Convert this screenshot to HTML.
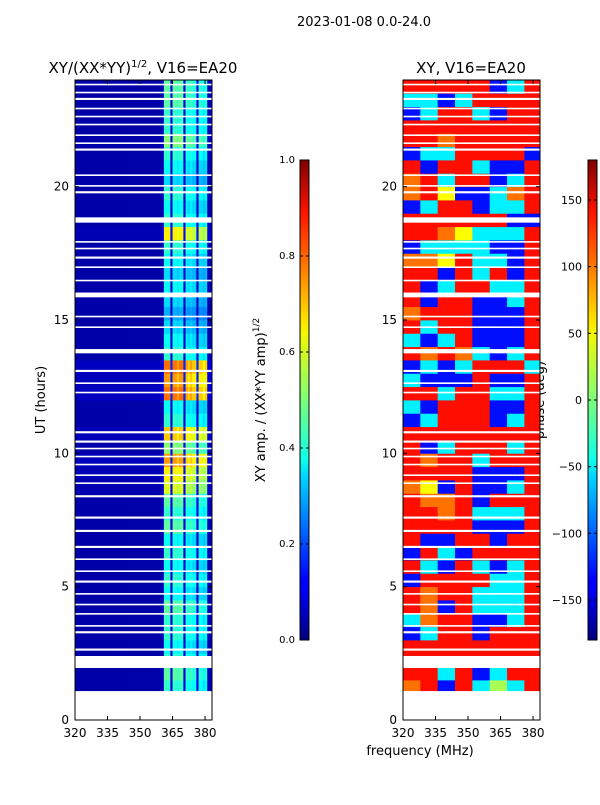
<!DOCTYPE html>
<html><head><meta charset="utf-8"><style>
body{margin:0;background:#fff;font-family:"Liberation Sans","DejaVu Sans",sans-serif}
svg text{font-family:"DejaVu Sans","Liberation Sans",sans-serif}
</style></head><body>
<svg id="fig" width="600" height="800" xmlns="http://www.w3.org/2000/svg">
<defs>
<linearGradient id="jet" x1="0" y1="1" x2="0" y2="0">
<stop offset="0" stop-color="#000080"/><stop offset="0.11" stop-color="#0000ff"/><stop offset="0.125" stop-color="#0000ff"/>
<stop offset="0.34" stop-color="#00d4ff"/><stop offset="0.375" stop-color="#0dffea"/><stop offset="0.5" stop-color="#7dff7a"/>
<stop offset="0.64" stop-color="#f4f802"/><stop offset="0.66" stop-color="#ffe600"/><stop offset="0.89" stop-color="#ff1300"/><stop offset="1" stop-color="#800000"/>
</linearGradient></defs>
<text x="364" y="26" font-size="13" text-anchor="middle">2023-01-08 0.0-24.0</text>
<text x="143" y="73" font-size="15" text-anchor="middle">XY/(XX*YY)<tspan dy="-6" font-size="10">1/2</tspan><tspan dy="6">, V16=EA20</tspan></text>
<text x="471" y="73" font-size="15" text-anchor="middle">XY, V16=EA20</text>
<text transform="translate(45,400) rotate(-90)" font-size="13" text-anchor="middle">UT (hours)</text>
<text transform="translate(265,400) rotate(-90)" font-size="13" text-anchor="middle">XY amp. / (XX*YY amp)<tspan dy="-6" font-size="9">1/2</tspan></text>
<text transform="translate(544,400) rotate(-90)" font-size="13" text-anchor="middle">phase (deg)</text>
<text x="420" y="755" font-size="13" text-anchor="middle">frequency (MHz)</text>
<g id="amp"></g>
<g id="pha"></g>
<g id="axes"></g>
<rect x="300" y="160" width="9" height="480" fill="url(#jet)" stroke="#000"/>
<rect x="588" y="160" width="9" height="480" fill="url(#jet)" stroke="#000"/>
</svg>
<script>
const gapStarts=[1.95,2.6,3.25,3.5,3.95,4.3,4.7,5.15,5.55,6.0,6.45,7.05,7.55,8.35,8.85,9.15,9.55,9.85,10.15,10.4,10.75,12.25,12.6,13.05,13.75,14.7,15.1,15.85,16.45,16.95,17.3,17.65,17.9,18.65,19.75,20.0,20.4,21.35,21.6,21.9,22.3,22.6,22.9,23.25,23.5,23.8];
const gapLens=[0.45,0.08,0.08,0.06,0.06,0.06,0.06,0.08,0.06,0.06,0.08,0.08,0.08,0.08,0.06,0.06,0.06,0.06,0.06,0.08,0.08,0.06,0.06,0.08,0.16,0.06,0.06,0.18,0.06,0.06,0.08,0.06,0.06,0.2,0.08,0.06,0.06,0.08,0.06,0.06,0.06,0.06,0.06,0.08,0.06,0.06];
const ampProfile=[0.07,0.07,0.07,0.07,0.07,0.07,0.07,0.07,0.07,0.07,0.07,0.07,0.07,0.07,0.07,0.07,0.07,0.07,0.07,0.07,0.07,0.07,0.07,0.07,0.07,0.07,0.07,0.07,0.07,0.07,0.07,0.07,0.07,0.07,0.07,0.07,0.07,0.07,0.07,0.07,0.12,0.85,0.85,0.85,0.18,0.85,0.85,0.8,0.85,0.85,0.18,0.8,0.75,0.8,0.75,0.75,0.18,0.75,0.75,0.7,0.75,0.12,0.12,0.12];
const rowGain=[0.5,0.55,0.5,0.45,0.5,0.5,0.55,0.45,0.5,0.45,0.5,0.45,0.55,0.5,0.55,0.7,0.75,0.85,0.6,0.8,0.5,0.45,0.9,0.85,0.9,0.5,0.45,0.4,0.35,0.4,0.45,0.4,0.45,0.5,0.75,0.5,0.45,0.5,0.4,0.45,0.5,0.6,0.5,0.5,0.55,0.55];
const R=130,O=95,Y=45,G=15,C=-50,B=-130;
const phaseRows=[
[O,R,B,R,C,G,C,R],[R,R,C,R,B,C,R,R],[R,R,R,R,R,R,R,R],[R,R,R,R,R,R,R,R],[B,C,R,R,B,R,R,R],[C,O,R,R,B,B,C,R],
[R,O,B,R,C,C,C,R],[R,O,R,R,C,C,C,R],[B,R,R,R,R,C,C,R],[R,C,B,R,C,B,C,R],[B,R,C,B,R,R,R,R],[R,B,B,R,R,B,R,R],
[R,R,R,R,B,B,B,R],[R,R,O,R,C,C,C,R],[R,O,O,R,B,R,R,R],[O,Y,B,R,B,B,C,R],[R,R,R,R,B,B,B,R],[R,O,R,R,C,R,R,R],
[R,B,C,R,R,R,C,R],[R,R,R,R,R,R,R,R],[B,C,R,R,R,B,C,R],[C,B,R,R,R,B,B,R],
[R,R,C,R,R,C,C,R],[C,B,B,B,R,B,B,R],[B,C,B,C,R,R,R,C],[R,O,R,O,C,B,C,R],[C,B,C,R,B,B,B,R],[R,C,R,R,B,B,B,R],
[O,R,R,R,B,B,B,R],[R,B,R,R,B,B,C,R],[R,B,C,R,R,C,C,R],[R,R,B,R,C,R,B,R],[O,O,Y,R,C,C,B,R],[B,C,C,C,C,B,B,R],
[R,R,O,Y,C,C,C,R],[R,R,R,R,R,R,B,B],[B,C,R,R,B,C,C,R],[O,R,Y,B,B,C,O,R],[O,R,C,R,R,B,C,R],[R,B,R,R,C,B,B,R],
[B,C,C,R,R,R,R,B],[R,R,O,R,R,R,R,R],[R,R,R,R,R,R,R,R],[B,C,R,R,C,B,R,R],[C,C,B,C,R,R,R,R],[R,R,R,R,R,B,C,R]];
const ampTicks=[0,0.2,0.4,0.6,0.8,1.0];
const phaseTicks=[-150,-100,-50,0,50,100,150];
const hourTicks=[0,5,10,15,20];
const freqTicks=[320,335,350,365,380];

const NS="http://www.w3.org/2000/svg";
const fig=document.getElementById('fig');
const T=80,Bt=720;
function yH(h){return Bt-(h/24)*(Bt-T);}
function xF(f,x0){return x0+(f-320)*(137/63.2);}
function jet(v){v=Math.max(0,Math.min(1,v));
 const c=t=>Math.round(255*Math.max(0,Math.min(1,t)));
 return `rgb(${c(1.5-Math.abs(4*v-3))},${c(1.5-Math.abs(4*v-2))},${c(1.5-Math.abs(4*v-1))})`;}
function el(tag,attrs,parent){const e=document.createElementNS(NS,tag);for(const k in attrs)e.setAttribute(k,attrs[k]);parent.appendChild(e);return e;}
const amp=document.getElementById('amp'),pha=document.getElementById('pha');
rowGain.forEach((g,i)=>{
 const h0=Math.max(1.1,1+i*0.5),h1=1.5+i*0.5;
 ampProfile.forEach((p,j)=>{
  const x0=xF(320+j,75),x1=xF(321+j,75);
  const r=el('rect',{x:x0,y:yH(h1),width:Math.min(x1,212)-x0+0.4,height:yH(h0)-yH(h1)+0.4,fill:jet(Math.max(p*g,0.04))},amp);
  
  
 });
});
phaseRows.forEach((row,i)=>{
 const h0=Math.max(1.1,1+i*0.5),h1=1.5+i*0.5;
 row.forEach((v,j)=>{
  const f0=320+j*8,f1=f0+8;
  const x0=xF(f0,403),x1=Math.min(xF(f1,403),540);
  const r=el('rect',{x:x0,y:yH(h1),width:x1-x0+0.4,height:yH(h0)-yH(h1)+0.4,fill:jet((v+180)/360)},pha);
  
  
 });
});
gapStarts.forEach((g,i)=>{
 [75,403].forEach(x=>{
  const r=el('rect',{x:x,y:yH(g+gapLens[i]),width:137,height:yH(g)-yH(g+gapLens[i]),fill:'#fff'},fig);
  
  
 });
});
const axes=document.getElementById('axes');
fig.appendChild(axes);
[75,403].forEach((x0,k)=>{
 const f=el('rect',{x:x0,y:T,width:137,height:Bt-T,fill:'none',stroke:'#000','stroke-width':1},axes);
 
 
 hourTicks.forEach(h=>{
  const y=yH(h);
  el('line',{x1:x0,x2:x0+4,y1:y,y2:y,stroke:'#000'},axes);
  el('line',{x1:x0+137,x2:x0+133,y1:y,y2:y,stroke:'#000'},axes);
  const t=el('text',{x:x0-6,y:y+4,'font-size':12,'text-anchor':'end'},axes);
  t.textContent=h;
  
  
 });
 freqTicks.forEach(fq=>{
  const x=xF(fq,x0);
  el('line',{x1:x,x2:x,y1:Bt,y2:Bt-4,stroke:'#000'},axes);
  el('line',{x1:x,x2:x,y1:T,y2:T+4,stroke:'#000'},axes);
  const t=el('text',{x:x,y:Bt+17,'font-size':12,'text-anchor':'middle'},axes);
  t.textContent=fq;
  
  
 });
});
ampTicks.forEach(v=>{
 const y=640-v*480;
 el('line',{x1:300,x2:303,y1:y,y2:y,stroke:'#000'},fig);
 el('line',{x1:309,x2:306,y1:y,y2:y,stroke:'#000'},fig);
 const t=el('text',{x:295,y:y+3,'font-size':10,'text-anchor':'end'},fig);
 t.textContent=v.toFixed(1);
 
 
});
phaseTicks.forEach(v=>{
 const y=400-v*480/360;
 el('line',{x1:588,x2:591,y1:y,y2:y,stroke:'#000'},fig);
 el('line',{x1:597,x2:594,y1:y,y2:y,stroke:'#000'},fig);
 const t=el('text',{x:582,y:y+4,'font-size':11,'text-anchor':'end'},fig);
 t.textContent=v<0?'\u2212'+(-v):v;
 
 
});
</script>
</body></html>
